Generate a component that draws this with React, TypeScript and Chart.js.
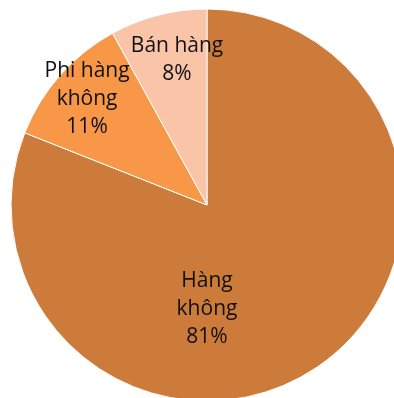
import React, { useEffect, useRef } from "react";
import { Chart, registerables } from "chart.js";

Chart.register(...registerables);

const categories = ["Hàng không", "Phi hàng không", "Bán hàng"];
const labelLines = [["Hàng", "không"], ["Phi hàng", "không"], ["Bán hàng"]];
const values = [81, 11, 8];
const percentLabels = ["81%", "11%", "8%"];
const colors = ["#CC7B3A", "#F79747", "#F9C4A8"];

// label anchor (first baseline) as fraction of radius from pie center
const labelAnchors = [
  [0.0, 0.418],
  [-0.612, -0.653],
  [-0.153, -0.781],
];

const labelPlugin = {
  id: "sliceLabels",
  afterDatasetsDraw(chart: any) {
    const meta = chart.getDatasetMeta(0);
    const ctx = chart.ctx;
    ctx.save();
    ctx.fillStyle = "#111111";
    ctx.font = '21px "Open Sans"';
    ctx.textAlign = "center";
    ctx.textBaseline = "alphabetic";
    meta.data.forEach((arc: any, i: number) => {
      const { x, y, outerRadius } = arc.getProps(["x", "y", "outerRadius"], true);
      const ax = x + labelAnchors[i][0] * outerRadius;
      let ay = y + labelAnchors[i][1] * outerRadius;
      const lines = [...labelLines[i], percentLabels[i]];
      lines.forEach((t) => {
        ctx.fillText(t, ax, ay);
        ay += 28;
      });
    });
    ctx.restore();
  },
};

export default function App() {
  const ref = useRef<HTMLCanvasElement>(null);
  useEffect(() => {
    const chart = new Chart(ref.current!, {
      type: "pie",
      data: {
        labels: categories,
        datasets: [
          {
            data: values,
            backgroundColor: colors,
            borderColor: "#ffffff",
            borderWidth: 1,
            hoverOffset: 0,
            radius: 196,
          },
        ],
      },
      options: {
        responsive: false,
        animation: false,
        layout: { padding: 0 },
        plugins: { legend: { display: false }, tooltip: { enabled: false } },
      },
      plugins: [labelPlugin],
    });
    return () => chart.destroy();
  }, []);
  return (
    <div style={{ position: "fixed", left: 0, top: 0, width: 394, height: 398, overflow: "hidden", background: "#fff" }}>
      <canvas ref={ref} width={400} height={400} style={{ position: "absolute", left: 7, top: 5 }} />
    </div>
  );
}
